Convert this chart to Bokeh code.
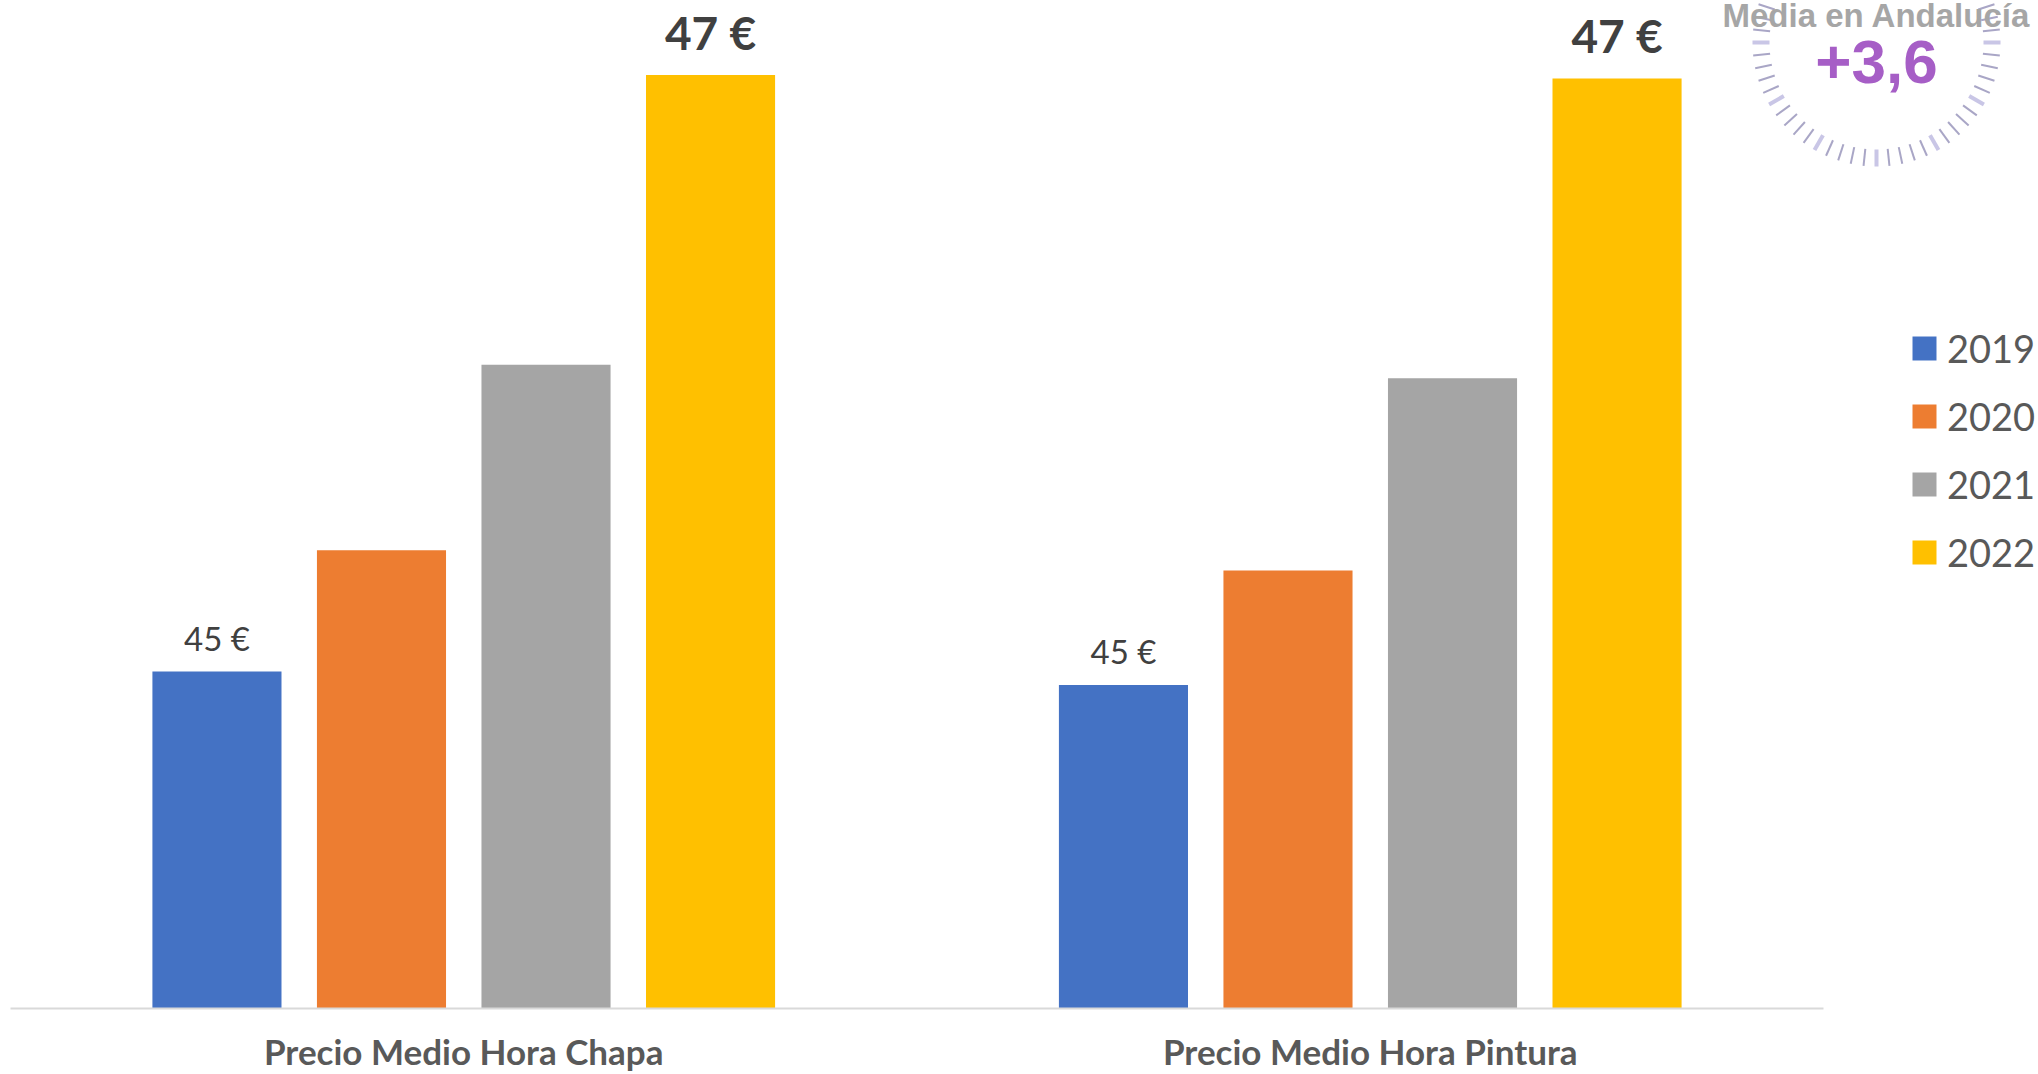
import math
from bokeh.plotting import figure
from bokeh.models import ColumnDataSource, Range1d, Label, Arrow, FixedTicker
from bokeh.transform import dodge
from bokeh.core.properties import value
from bokeh.embed import file_html
from bokeh.resources import INLINE

# ---- data ----
categories = ["Precio Medio Hora Chapa", "Precio Medio Hora Pintura"]
years = ["2019", "2020", "2021", "2022"]
v2019 = [45.00, 44.96]
v2020 = [45.36, 45.30]
v2021 = [45.91, 45.87]
v2022 = [46.77, 46.76]
badge_title = "Media en Andalucía"
badge_value = "+3,6"

series = [v2019, v2020, v2021, v2022]
colors = ["#4472C4", "#ED7D31", "#A5A5A5", "#FFC000"]

W, H = 2036, 1074
MB_L, MB_R, MB_T, MB_B = 10, 0, 0, 66
FW = W - MB_L - MB_R
FH = H - MB_T - MB_B
CAT_PX = 906.5                      # pixel width of one category slot
PX_PER_UNIT = 337.0                 # pixels per euro
Y0 = 44.0
Y1 = Y0 + FH / PX_PER_UNIT

p = figure(width=W, height=H, x_range=Range1d(0, FW / CAT_PX), y_range=Range1d(Y0, Y1),
           y_axis_location=None, output_backend="svg", toolbar_location=None,
           min_border_left=MB_L, min_border_right=MB_R, min_border_top=MB_T, min_border_bottom=MB_B)
p.xgrid.visible = False
p.ygrid.visible = False
p.outline_line_color = None

xc = [i + 0.5 for i in range(len(categories))]
src = ColumnDataSource(dict(xc=xc, v2019=v2019, v2020=v2020, v2021=v2021, v2022=v2022,
                            l2019=[f"{round(v)} €" for v in v2019],
                            l2022=[f"{round(v)} €" for v in v2022]))

stride = 0.1815
bw = 0.1424
for i, (yr, col) in enumerate(zip(years, colors)):
    off = (i - 1.5) * stride
    p.vbar(x=dodge("xc", off), top="v" + yr, bottom=Y0, width=bw,
           source=src, fill_color=col, line_color=None, legend_label=yr)

p.text(x=dodge("xc", -1.5 * stride), y="v2019", text="l2019", source=src,
       text_align="center", text_baseline="middle", y_offset=-34,
       text_font=value("Lato"), text_font_size="33px", text_color="#404040")
p.text(x=dodge("xc", 1.5 * stride), y="v2022", text="l2022", source=src,
       text_align="center", text_baseline="middle", y_offset=-43,
       text_font=value("Lato"), text_font_style="bold", text_font_size="46px", text_color="#404040")

ax = p.xaxis[0]
ax.ticker = FixedTicker(ticks=xc)
ax.major_label_overrides = {x: c for x, c in zip(xc, categories)}
ax.bounds = (0, len(categories))
ax.axis_line_color = "#D9D9D9"
ax.axis_line_width = 2
ax.major_tick_line_color = None
ax.minor_tick_line_color = None
ax.major_label_standoff = 15
ax.major_label_text_font = "Lato"
ax.major_label_text_font_style = "bold"
ax.major_label_text_font_size = "35px"
ax.major_label_text_color = "#595959"

lg = p.legend[0]
lg.location = (1899, 433)
lg.border_line_color = None
lg.background_fill_alpha = 0
lg.padding = 0
lg.margin = 0
lg.spacing = 22
lg.glyph_width = 30
lg.glyph_height = 30
lg.label_standoff = 8
lg.label_text_font = "Lato"
lg.label_text_font_size = "38px"
lg.label_text_color = "#595959"

# ---- badge (decoration), page pixels mapped to data coords ----
def dx(px):
    return (px - MB_L) / CAT_PX
def dy(py):
    return Y1 - (py - MB_T) / PX_PER_UNIT

cx, cy, r_in, r_out = 1876, 42, 107, 124
for k in range(60):
    a = math.radians(k * 6)
    major = (k % 5 == 0)
    x0 = cx + r_in * math.cos(a); y0 = cy - r_in * math.sin(a)
    x1 = cx + r_out * math.cos(a); y1 = cy - r_out * math.sin(a)
    p.add_layout(Arrow(x_start=dx(x0), y_start=dy(y0), x_end=dx(x1), y_end=dy(y1), end=None, start=None,
                       line_color="#C9C6E6" if major else "#A9A6C6", line_width=4 if major else 2))

p.add_layout(Label(x=dx(cx), y=dy(61), text=badge_value, text_align="center", text_baseline="middle",
                   text_font="Liberation Sans", text_font_style="bold", text_font_size="62px",
                   text_color="#A65EC6"))
p.add_layout(Label(x=dx(cx), y=dy(15), text=badge_title, text_align="center", text_baseline="alphabetic",
                   text_font="Liberation Sans", text_font_style="bold", text_font_size="33px",
                   text_color="#A6A6A6"))

open("out.html", "w").write(file_html(p, INLINE))
